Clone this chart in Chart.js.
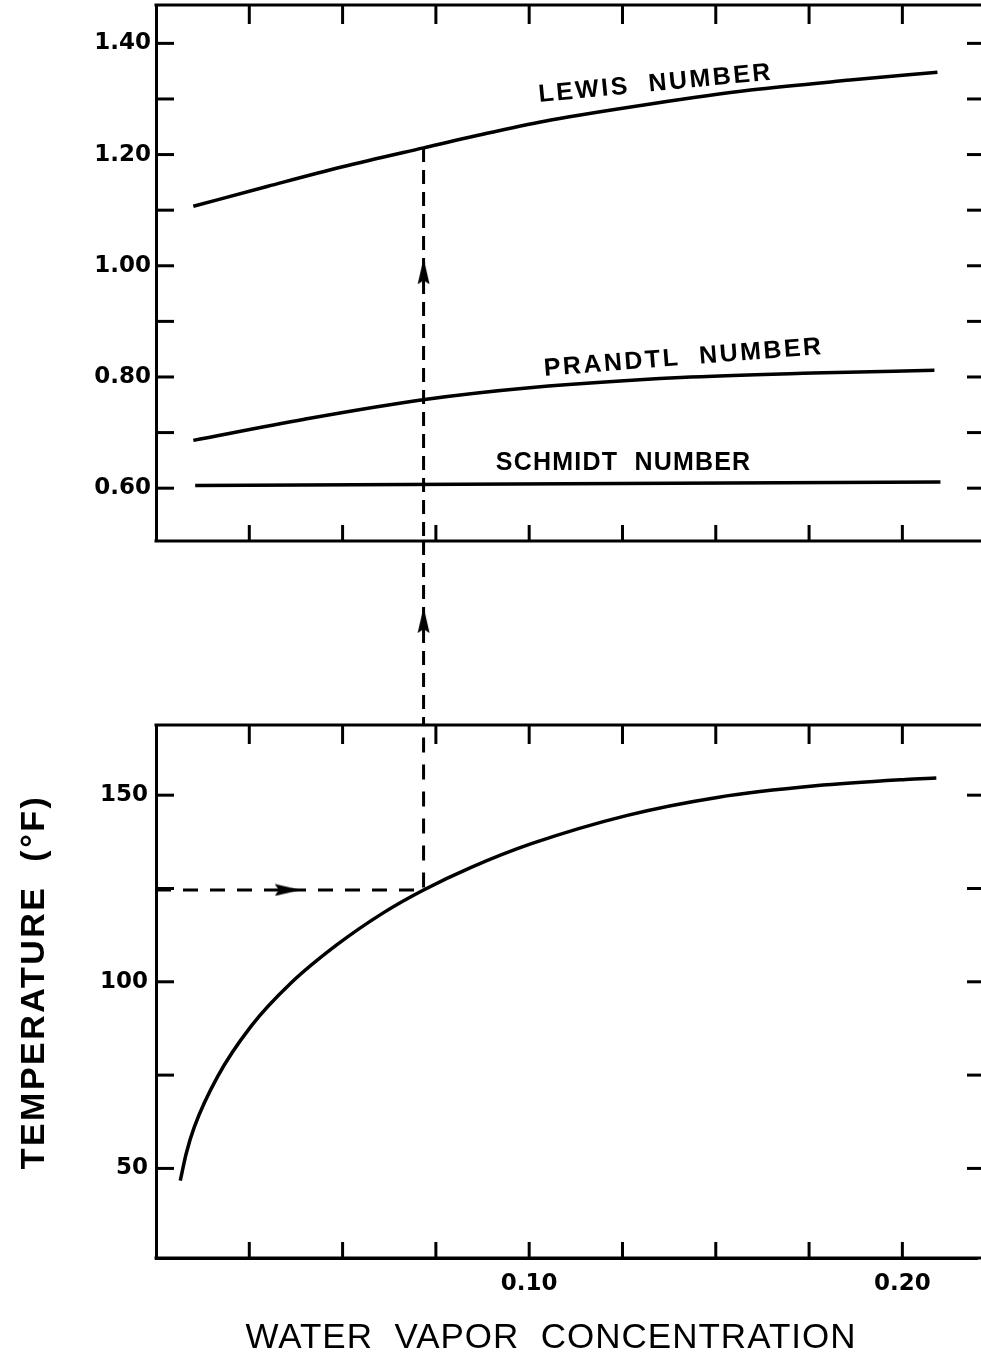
<!DOCTYPE html>
<html>
<head>
<meta charset="utf-8">
<title>Lewis, Prandtl and Schmidt numbers vs water vapor concentration</title>
<style>
    html, body { margin: 0; padding: 0; background: #fff; }
    #chart { display: block; }
</style>
</head>
<body>
<canvas id="chart" width="981" height="1358"></canvas>
<script src="https://cdn.jsdelivr.net/npm/chart.js@4.4.1/dist/chart.umd.min.js"></script>
<script>
(function () {
    "use strict";

    // Curves (x = water vapor concentration)
    var lewisX = [0.010, 0.030, 0.050, 0.0717, 0.090, 0.1058, 0.1325, 0.1593, 0.186, 0.2094];
    var lewisY = [1.107, 1.143, 1.178, 1.212, 1.240, 1.262, 1.291, 1.316, 1.334, 1.348];

    var prandtlX = [0.010, 0.0398, 0.0715, 0.1008, 0.1406, 0.1759, 0.2086];
    var prandtlY = [0.686, 0.724, 0.759, 0.781, 0.799, 0.807, 0.812];

    var schmidtX = [0.0105, 0.2102];
    var schmidtY = [0.605, 0.611];

    var tempX = [0.0065, 0.0081, 0.0103, 0.0165, 0.0254, 0.0361, 0.0486, 0.0611, 0.0717, 0.0843, 0.1006, 0.1263, 0.1504, 0.1767, 0.2009, 0.2091];
    var tempY = [46.7, 54.0, 61.2, 74.6, 88.0, 99.6, 110.0, 118.6, 124.6, 130.6, 137.0, 144.6, 149.4, 152.5, 154.2, 154.6];

    // the worked example: 124.6 F -> concentration 0.0717
    var readT = 124.6;
    var readX = 0.0717;

    // Tick marks and labels
    var xTicks = [0.025, 0.05, 0.075, 0.10, 0.125, 0.15, 0.175, 0.20];
    var xTickLabels = ['', '', '', '0.10', '', '', '', '0.20'];
    var topTicks = [0.60, 0.70, 0.80, 0.90, 1.00, 1.10, 1.20, 1.30, 1.40];
    var topTickLabels = ['0.60', '', '0.80', '', '1.00', '', '1.20', '', '1.40'];
    var botTicks = [50, 75, 100, 125, 150];
    var botTickLabels = ['50', '', '100', '', '150'];

    // Curve names, anchored in data units of the upper panel
    var curveNames = ['LEWIS  NUMBER', 'PRANDTL  NUMBER', 'SCHMIDT  NUMBER'];
    var curveNameX = [0.1339, 0.1414, 0.1253];
    var curveNameY = [1.327, 0.834, 0.645];
    var curveNameAngle = [-5.5, -4.5, 0];

    var ink = '#000';

    function pairs(xs, ys) {
        return xs.map(function (x, i) { return { x: x, y: ys[i] }; });
    }

    // small dart used as arrow head (points up, rotated by the point style)
    function makeArrow() {
        var c = document.createElement('canvas');
        c.width = 13;
        c.height = 26;
        var g = c.getContext('2d');
        g.fillStyle = ink;
        g.beginPath();
        g.moveTo(6.5, 0);
        g.lineTo(12.5, 26);
        g.lineTo(6.5, 22);
        g.lineTo(0.5, 26);
        g.closePath();
        g.fill();
        return c;
    }
    var arrow = makeArrow();

    function spacedText(ctx, text, x, y, spacing) {
        if ('letterSpacing' in ctx) {
            ctx.letterSpacing = spacing + 'px';
        }
        ctx.fillText(text, x, y);
        if ('letterSpacing' in ctx) {
            ctx.letterSpacing = '0px';
        }
    }

    function seg(ctx, x1, y1, x2, y2) {
        ctx.beginPath();
        ctx.moveTo(x1, y1);
        ctx.lineTo(x2, y2);
        ctx.stroke();
    }

    // Panel frames and inward tick marks
    var framePlugin = {
        id: 'panelFrame',
        afterDraw: function (chart) {
            var ctx = chart.ctx;
            var area = chart.chartArea;
            var xs = chart.scales.x;
            ctx.save();
            ctx.strokeStyle = ink;
            ctx.lineWidth = 3;
            ['yTop', 'yBot'].forEach(function (id) {
                var s = chart.scales[id];
                seg(ctx, area.left - 1.5, s.top, chart.width, s.top);
                seg(ctx, area.left - 1.5, s.bottom, chart.width, s.bottom);
                xTicks.forEach(function (v) {
                    var px = xs.getPixelForValue(v);
                    seg(ctx, px, s.top, px, s.top + 19);
                    seg(ctx, px, s.bottom, px, s.bottom - 16);
                });
                s.ticks.forEach(function (t) {
                    var py = s.getPixelForValue(t.value);
                    seg(ctx, area.left, py, area.left + 18, py);
                    seg(ctx, chart.width - 14, py, chart.width, py);
                });
            });
            ctx.restore();
        }
    };

    // Curve names and axis titles
    var textPlugin = {
        id: 'figureText',
        afterDraw: function (chart) {
            var ctx = chart.ctx;
            var xs = chart.scales.x;
            var ys = chart.scales.yTop;
            ctx.save();
            ctx.fillStyle = ink;
            ctx.textAlign = 'center';
            ctx.textBaseline = 'middle';
            ctx.font = 'bold 25px "Liberation Sans", Arial, sans-serif';
            curveNames.forEach(function (name, i) {
                ctx.save();
                ctx.translate(xs.getPixelForValue(curveNameX[i]), ys.getPixelForValue(curveNameY[i]));
                ctx.rotate(curveNameAngle[i] * Math.PI / 180);
                spacedText(ctx, name, 0, 0, i === 2 ? 1.2 : 2.5);
                ctx.restore();
            });

            ctx.font = '35px "Liberation Sans", Arial, sans-serif';
            spacedText(ctx, 'WATER  VAPOR  CONCENTRATION', 551, 1338, 1);

            ctx.save();
            ctx.translate(35, 982);
            ctx.rotate(-Math.PI / 2);
            ctx.font = 'bold 34px "Liberation Sans", Arial, sans-serif';
            spacedText(ctx, 'TEMPERATURE  (\u00B0F)', 0, 0, 2.5);
            ctx.restore();
            ctx.restore();
        }
    };

    var tickFont = { family: '"DejaVu Sans", sans-serif', size: 23, weight: 'bold' };

    var curve = { borderColor: ink, borderWidth: 3.5, pointRadius: 0, fill: false, cubicInterpolationMode: 'monotone' };
    var dashed = { borderColor: ink, borderWidth: 3, pointRadius: 0, fill: false, tension: 0, borderDash: [14, 8] };
    // image point style ignores the radius; keep it small so it adds no layout padding
    var head = { showLine: false, pointStyle: arrow, pointRadius: 1, pointHoverRadius: 1, borderWidth: 0 };

    function ds(base, extra) {
        return Object.assign({}, base, extra);
    }

    // no automatic room for the first/last tick labels: the frame is fixed
    function noPad(s) {
        s.paddingTop = 0;
        s.paddingBottom = 0;
        s.paddingLeft = 0;
        s.paddingRight = 0;
    }

    var ctx = document.getElementById('chart').getContext('2d');
    var chart = new Chart(ctx, {
        type: 'line',
        data: {
            datasets: [
                ds(curve, { label: 'Lewis number', yAxisID: 'yTop', data: pairs(lewisX, lewisY) }),
                ds(curve, { label: 'Prandtl number', yAxisID: 'yTop', data: pairs(prandtlX, prandtlY) }),
                ds(curve, { label: 'Schmidt number', yAxisID: 'yTop', data: pairs(schmidtX, schmidtY), cubicInterpolationMode: 'default', tension: 0 }),
                ds(curve, { label: 'Temperature', yAxisID: 'yBot', data: pairs(tempX, tempY) }),
                ds(dashed, { label: 'read (top)', yAxisID: 'yTop', data: [{ x: readX, y: lewisY[3] }, { x: readX, y: 0.505 }] }),
                ds(dashed, { label: 'read (gap)', yAxisID: 'yGap', data: [{ x: readX, y: 1 }, { x: readX, y: 0 }] }),
                ds(dashed, { label: 'read (bottom)', yAxisID: 'yBot', data: [{ x: 0, y: readT }, { x: readX, y: readT }, { x: readX, y: 168.8 }], borderDash: [15, 12] }),
                ds(head, { label: 'arrow top', yAxisID: 'yTop', data: [{ x: readX, y: 0.99 }], rotation: 0 }),
                ds(head, { label: 'arrow gap', yAxisID: 'yGap', data: [{ x: readX, y: 0.57 }], rotation: 0 }),
                ds(head, { label: 'arrow left', yAxisID: 'yBot', data: [{ x: 0.0353, y: readT }], rotation: 90 })
            ]
        },
        options: {
            responsive: false,
            animation: false,
            devicePixelRatio: 1,
            layout: { padding: { top: 5, right: 4, bottom: 0, left: 0 } },
            plugins: { legend: { display: false }, tooltip: { enabled: false } },
            scales: {
                x: {
                    type: 'linear',
                    min: 0,
                    max: 0.22,
                    afterBuildTicks: function (s) { s.ticks = xTicks.map(function (v) { return { value: v }; }); },
                    afterFit: function (s) { s.height = 100; noPad(s); },
                    grid: { display: false, drawTicks: false },
                    border: { color: ink, width: 3 },
                    ticks: {
                        color: ink, font: tickFont, padding: 12, autoSkip: false, maxRotation: 0,
                        callback: function (v, i) { return xTickLabels[i]; }
                    }
                },
                yBot: {
                    type: 'linear',
                    position: 'left',
                    stack: 'panels',
                    stackWeight: 533,
                    min: 26,
                    max: 168.8,
                    afterBuildTicks: function (s) { s.ticks = botTicks.map(function (v) { return { value: v }; }); },
                    afterFit: function (s) { s.width = 156; noPad(s); },
                    grid: { display: false, drawTicks: false },
                    border: { color: ink, width: 3 },
                    ticks: {
                        color: ink, font: tickFont, padding: 8,
                        callback: function (v, i) { return botTickLabels[i]; }
                    }
                },
                yGap: {
                    type: 'linear',
                    position: 'left',
                    stack: 'panels',
                    stackWeight: 184,
                    min: 0,
                    max: 1,
                    afterFit: function (s) { s.width = 156; noPad(s); },
                    grid: { display: false, drawTicks: false },
                    border: { display: false },
                    ticks: { display: false }
                },
                yTop: {
                    type: 'linear',
                    position: 'left',
                    stack: 'panels',
                    stackWeight: 536,
                    min: 0.505,
                    max: 1.469,
                    afterBuildTicks: function (s) { s.ticks = topTicks.map(function (v) { return { value: v }; }); },
                    afterFit: function (s) { s.width = 156; noPad(s); },
                    grid: { display: false, drawTicks: false },
                    border: { color: ink, width: 3 },
                    ticks: {
                        color: ink, font: tickFont, padding: 5,
                        callback: function (v, i) { return topTickLabels[i]; }
                    }
                }
            }
        },
        plugins: [framePlugin, textPlugin]
    });
})();
</script>
</body>
</html>
